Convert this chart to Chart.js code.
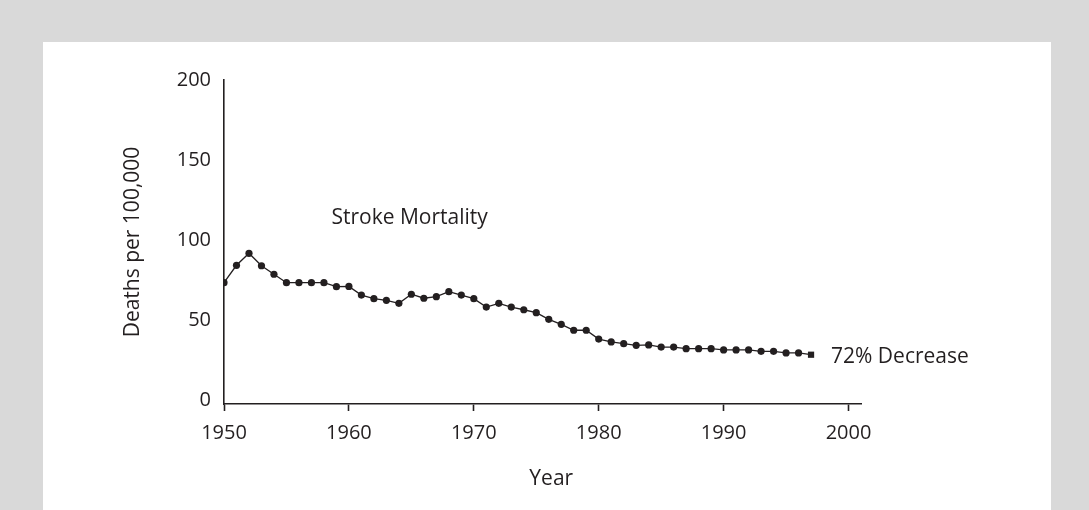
<!DOCTYPE html>
<html>
<head>
<meta charset="utf-8">
<script src="https://cdn.jsdelivr.net/npm/chart.js@4"></script>
<style>
    html, body { margin: 0; padding: 0; }
    body { width: 1089px; height: 510px; background: #d9d9d9; position: relative; overflow: hidden; }
    #panel { position: absolute; left: 43px; top: 42px; width: 1008px; height: 468px; background: #ffffff; }
    canvas { display: block; }
</style>
</head>
<body>
<div id="panel">
    <canvas id="chart" width="1008" height="468"></canvas>
</div>
<script>
// ============================================
// Stroke mortality, deaths per 100,000 (1950-1997)
// ============================================

const years = [
    1950, 1951, 1952, 1953, 1954, 1955, 1956, 1957, 1958, 1959,
    1960, 1961, 1962, 1963, 1964, 1965, 1966, 1967, 1968, 1969,
    1970, 1971, 1972, 1973, 1974, 1975, 1976, 1977, 1978, 1979,
    1980, 1981, 1982, 1983, 1984, 1985, 1986, 1987, 1988, 1989,
    1990, 1991, 1992, 1993, 1994, 1995, 1996, 1997
];

const strokeRate = [
    73.3, 84.2, 91.7, 83.9, 78.6, 73.3, 73.3, 73.3, 73.3, 70.8,
    71.0, 65.6, 63.3, 62.3, 60.4, 66.1, 63.6, 64.6, 67.7, 65.6,
    63.3, 58.1, 60.4, 58.1, 56.4, 54.6, 50.4, 47.3, 43.6, 43.6,
    38.1, 36.3, 35.2, 34.2, 34.4, 33.1, 33.1, 32.1, 32.1, 32.1,
    31.3, 31.3, 31.3, 30.4, 30.4, 29.4, 29.4, 28.3
];

const xTicks = [1950, 1960, 1970, 1980, 1990, 2000];
const yTicks = [0, 50, 100, 150, 200];

const xTitle = 'Year';
const yTitle = 'Deaths per 100,000';
const seriesLabel = 'Stroke Mortality';
const endNote = '72% Decrease';

const INK = '#231f20';
const FONT = "'Open Sans', 'Noto Sans', sans-serif";

// texte posé sur le graphique (titres d'axes + annotations)
const textPlugin = {
    id: 'texts',
    afterDraw(chart) {
        const { ctx, chartArea, scales } = chart;
        const x = scales.x, y = scales.y;
        ctx.save();
        ctx.fillStyle = INK;
        ctx.font = `21px ${FONT}`;
        ctx.textBaseline = 'middle';

        ctx.textAlign = 'left';
        ctx.fillText(seriesLabel, x.getPixelForValue(1958.6), y.getPixelForValue(114));
        ctx.fillText(endNote, x.getPixelForValue(1998.6), y.getPixelForValue(27));

        ctx.textAlign = 'center';
        ctx.fillText(xTitle, x.getPixelForValue(1976.2), chartArea.bottom + 75);

        ctx.translate(chartArea.left - 91, (chartArea.top + chartArea.bottom) / 2);
        ctx.rotate(-Math.PI / 2);
        ctx.fillText(yTitle, 0, 0);
        ctx.restore();
    }
};

const lastIdx = strokeRate.length - 1;

new Chart(document.getElementById('chart'), {
    type: 'line',
    data: {
        datasets: [{
            label: seriesLabel,
            data: years.map((yr, i) => ({ x: yr, y: strokeRate[i] })),
            borderColor: INK,
            borderWidth: 1.3,
            backgroundColor: INK,
            pointBackgroundColor: INK,
            pointBorderWidth: 0,
            pointRadius: strokeRate.map((v, i) => i === lastIdx ? 4.4 : 3.6),
            pointStyle: strokeRate.map((v, i) => i === lastIdx ? 'rect' : 'circle'),
            tension: 0
        }]
    },
    options: {
        responsive: false,
        animation: false,
        layout: { padding: { top: 38, right: 190, left: 0, bottom: 0 } },
        plugins: {
            legend: { display: false },
            tooltip: { enabled: false }
        },
        scales: {
            x: {
                type: 'linear',
                min: 1950,
                max: 2001,
                afterBuildTicks: s => { s.ticks = xTicks.map(v => ({ value: v })); },
                afterFit: s => { s.height = 106; },
                border: { display: true, color: INK, width: 1.6 },
                grid: {
                    drawOnChartArea: false,
                    drawTicks: true,
                    tickLength: 7,
                    tickColor: INK,
                    tickWidth: 1.6
                },
                ticks: {
                    color: INK,
                    font: { family: FONT, size: 20 },
                    padding: 10,
                    maxRotation: 0,
                    callback: v => String(v)
                }
            },
            y: {
                min: -2.5,
                max: 200,
                afterBuildTicks: s => { s.ticks = yTicks.map(v => ({ value: v })); },
                afterFit: s => { s.width = 181; },
                border: { display: true, color: INK, width: 1.6 },
                grid: { drawOnChartArea: false, drawTicks: false },
                ticks: {
                    color: INK,
                    font: { family: FONT, size: 20 },
                    padding: 13,
                    callback: v => String(v)
                }
            }
        }
    },
    plugins: [textPlugin]
});
</script>
</body>
</html>
